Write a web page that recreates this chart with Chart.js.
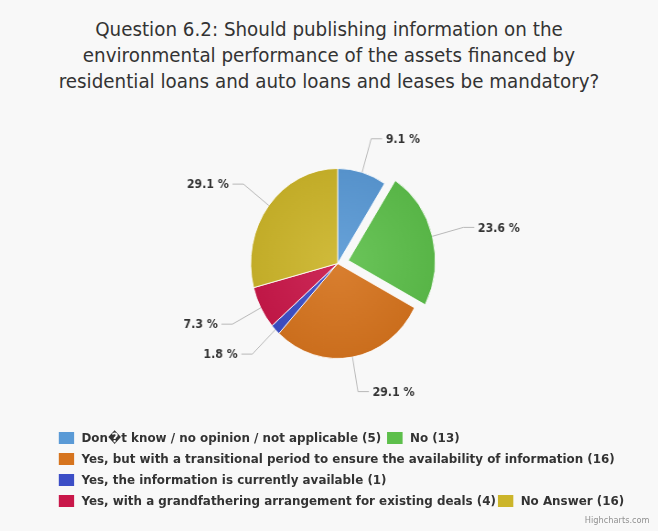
<!DOCTYPE html>
<html>
<head>
<meta charset="utf-8">
<title>Question 6.2</title>
<script src="https://cdn.jsdelivr.net/npm/chart.js@4.4.1/dist/chart.umd.min.js"></script>
<style>
  html, body { margin: 0; padding: 0; background: #f8f8f8; overflow: hidden; }
  /* todo el grafico se dibuja a 719px de ancho y se comprime a 658 */
  #wrap { position: relative; width: 719px; height: 531px; transform: scaleX(0.915); transform-origin: 0 0;
          background: #f8f8f8; font-family: "DejaVu Sans", sans-serif; color: #333; }
  #titulo { position: absolute; left: 0; top: 16px; width: 719px; text-align: center; font-size: 20px; line-height: 26px; }
  #caja-torta { position: absolute; left: 0; top: 0; width: 719px; height: 531px; }
  .fila { position: absolute; left: 0; width: 719px; height: 16px; }
  .item { position: absolute; top: 0; height: 16px; overflow: hidden; white-space: nowrap;
          font-size: 13px; font-weight: bold; line-height: 16px; background: transparent; }
  .cuadro { position: absolute; left: 0; top: 2px; width: 17px; height: 12px; }
  .texto { position: absolute; left: 25px; top: 0; }
  #creditos { position: absolute; right: 9px; top: 515px; font-size: 9px; color: #909090; }
</style>
</head>
<body>
<div id="wrap">
  <div id="titulo">Question 6.2: Should publishing information on the<br>environmental performance of the assets financed by<br>residential loans and auto loans and leases be mandatory?</div>
  <div id="caja-torta"><canvas id="torta"></canvas></div>
  <div id="leyenda"></div>
  <div id="creditos">Highcharts.com</div>
</div>
<script>
// Respuestas a la pregunta 6.2 (numero de respuestas)
var respuestas = [
  "Don\uFFFDt know / no opinion / not applicable",
  "No",
  "Yes, but with a transitional period to ensure the availability of information",
  "Yes, the information is currently available",
  "Yes, with a grandfathering arrangement for existing deals",
  "No Answer"
];
var conteos = [5, 13, 16, 1, 4, 16];
var colores = ["#5a9ad6", "#5dbf4b", "#d6741e", "#3c4ec6", "#c9184a", "#ccb52a"];

// la leyenda va en filas, como en el original (algunas entradas se tapan)
var filasLeyenda = [[0, 1], [2], [3], [4, 5]];
var filasY = [438, 459, 480, 501];
var filasX = [[64, 423], [64], [64], [64, 544]];

var total = conteos.reduce(function (a, b) { return a + b; }, 0);

function tono(hex, f) {
  var n = parseInt(hex.slice(1), 16);
  var r = (n >> 16) & 255, g = (n >> 8) & 255, b = n & 255;
  function c(v) { return Math.max(0, Math.min(255, Math.round(f > 0 ? v + (255 - v) * f : v * (1 + f)))); }
  return "rgb(" + c(r) + "," + c(g) + "," + c(b) + ")";
}

// etiquetas de porcentaje con su linea conectora
var distancia = 35;
var etiquetasTorta = {
  id: "etiquetasTorta",
  afterDatasetsDraw: function (chart) {
    var ctx = chart.ctx;
    var meta = chart.getDatasetMeta(0);
    ctx.save();
    ctx.font = "bold 12px 'DejaVu Sans'";
    ctx.textBaseline = "middle";
    meta.data.forEach(function (arc, i) {
      var p = arc.getProps(["x", "y", "startAngle", "endAngle", "outerRadius"], true);
      var ang = (p.startAngle + p.endAngle) / 2;
      var cos = Math.cos(ang), sin = Math.sin(ang);
      var desp = (arc.options.offset || 0) / 4;
      var cx = p.x + cos * desp, cy = p.y + sin * desp;
      var x0 = cx + cos * p.outerRadius, y0 = cy + sin * p.outerRadius;
      var x1 = cx + cos * (p.outerRadius + distancia), y1 = cy + sin * (p.outerRadius + distancia);
      var der = cos >= 0;
      ctx.strokeStyle = "#b8b8b8";
      ctx.lineWidth = 1;
      ctx.beginPath();
      ctx.moveTo(x0, y0);
      ctx.lineTo(x1, y1);
      ctx.lineTo(x1 + (der ? 12 : -12), y1);
      ctx.stroke();
      ctx.fillStyle = "#333";
      ctx.textAlign = der ? "left" : "right";
      var pct = (conteos[i] / total * 100).toFixed(1) + " %";
      ctx.fillText(pct, x1 + (der ? 16 : -16), y1 + 1);
    });
    ctx.restore();
  }
};

var torta = new Chart(document.getElementById("torta"), {
  type: "pie",
  data: {
    labels: respuestas,
    datasets: [{
      data: conteos,
      backgroundColor: function (c) {
        var area = c.chart.chartArea;
        var base = colores[c.dataIndex];
        if (!area) return base;
        var x = (area.left + area.right) / 2, y = (area.top + area.bottom) / 2;
        var g = c.chart.ctx.createRadialGradient(x, y, 0, x, y, 95);
        g.addColorStop(0, tono(base, 0.08));
        g.addColorStop(1, tono(base, -0.05));
        return g;
      },
      borderColor: "rgba(255,255,255,0.85)",
      borderWidth: 1,
      offset: [0, 48, 0, 0, 0, 0],
      radius: 95
    }]
  },
  options: {
    responsive: true,
    maintainAspectRatio: false,
    animation: false,
    events: [],
    layout: { padding: { left: 19, right: 0, top: 0, bottom: 4 } },
    plugins: {
      legend: { display: false },
      tooltip: { enabled: false }
    }
  },
  plugins: [etiquetasTorta]
});

// leyenda en HTML
var leyenda = document.getElementById("leyenda");
filasLeyenda.forEach(function (fila, f) {
  var div = document.createElement("div");
  div.className = "fila";
  div.style.top = (filasY[f] - 8) + "px";
  fila.forEach(function (idx, k) {
    var item = document.createElement("div");
    item.className = "item";
    var x = filasX[f][k];
    item.style.left = x + "px";
    var sig = filasX[f][k + 1];
    item.style.width = ((sig !== undefined ? sig : 719) - x) + "px";
    var cuadro = document.createElement("span");
    cuadro.className = "cuadro";
    cuadro.style.background = colores[idx];
    var texto = document.createElement("span");
    texto.className = "texto";
    texto.textContent = respuestas[idx] + " (" + conteos[idx] + ")";
    item.appendChild(cuadro);
    item.appendChild(texto);
    div.appendChild(item);
  });
  leyenda.appendChild(div);
});
</script>
</body>
</html>
